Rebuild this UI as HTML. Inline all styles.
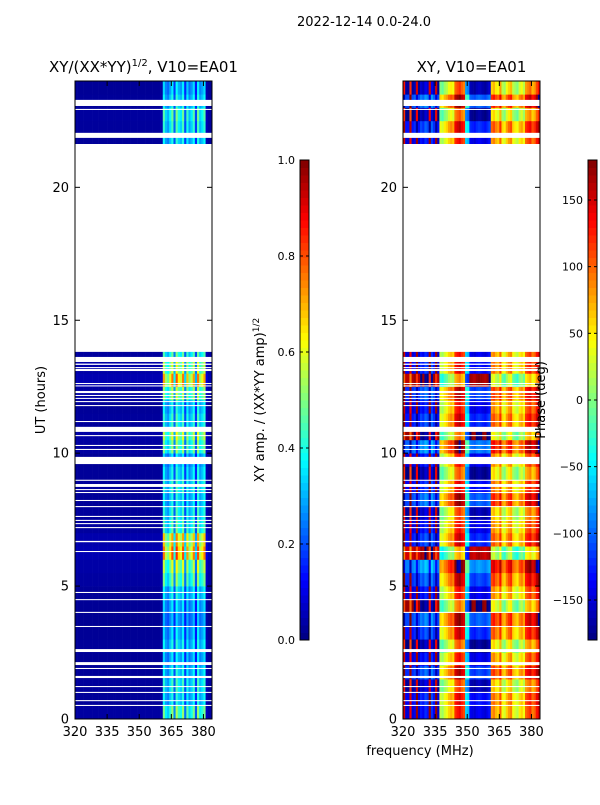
<!DOCTYPE html>
<html><head><meta charset="utf-8">
<style>
body{margin:0;background:#fff;}
svg text{font-family:"DejaVu Sans","Liberation Sans",sans-serif;fill:#000;}
</style></head>
<body>
<svg id="fig" width="600" height="800" viewBox="0 0 600 800" xmlns="http://www.w3.org/2000/svg">
<rect width="600" height="800" fill="#fff"/>
<text x="364" y="26" font-size="13" text-anchor="middle">2022-12-14 0.0-24.0</text>
<g id="left"></g><g id="right"></g><g id="cbars"></g>
</svg>
<script>
// ---- data ----
const chanFreqs = [320,321,322,323,324,325,326,327,328,329,330,331,332,333,334,335,336,337,338,339,340,341,342,343,344,345,346,347,348,349,350,351,352,353,354,355,356,357,358,359,360,361,362,363,364,365,366,367,368,369,370,371,372,373,374,375,376,377,378,379,380,381,382,383];
const chanAmp = [0.025,0.025,0.025,0.025,0.025,0.025,0.025,0.025,0.025,0.025,0.025,0.025,0.025,0.025,0.025,0.025,0.025,0.025,0.025,0.025,0.025,0.025,0.025,0.025,0.025,0.025,0.025,0.025,0.025,0.025,0.025,0.025,0.025,0.025,0.025,0.025,0.025,0.025,0.025,0.025,0.04,0.38,0.28,0.25,0.32,0.40,0.20,0.42,0.33,0.30,0.40,0.18,0.36,0.26,0.30,0.38,0.16,0.40,0.28,0.32,0.38,0.05,0.025,0.025];
const chanPhase = [150,-150,-150,140,-150,-140,170,-150,-130,-140,-120,-130,170,-120,-140,170,-150,20,10,30,40,60,70,60,120,130,140,120,110,-60,-70,-140,-145,-150,-140,-135,-140,-145,-150,-140,-130,80,90,70,60,100,40,30,60,80,90,40,30,20,50,60,40,100,110,120,90,100,130,150];
const binHours = 0.5;
const rowGain = [1.3,1.0,1.1,1.0,0.9,1.0,0.9,0.8,0.9,1.0,1.3,1.5,2.0,1.8,1.2,1.1,1.0,1.1,1.0,0.9,1.3,1.5,1.1,1.0,1.4,1.9,1.5,1.2,1.0,1.0,1.0,1.0,1.0,1.0,1.0,1.0,1.0,1.0,1.0,1.0,1.0,1.0,1.0,1.0,1.1,1.2,1.0,0.9];
const rowPhaseShift = [0,10,-20,30,0,-30,20,40,-40,0,30,60,-60,20,0,-20,40,10,-30,0,50,-40,20,0,30,-50,10,0,0,0,0,0,0,0,0,0,0,0,0,0,0,0,0,0,20,-30,40,-20];
const flagStart = [23.06,22.91,21.86,13.81,13.43,13.32,13.20,13.09,12.60,12.51,12.26,12.15,12.04,11.92,11.77,11.17,10.80,10.64,10.27,10.12,9.59,8.96,8.73,8.61,8.50,8.20,7.97,7.60,7.45,7.33,7.18,6.65,6.28,4.74,4.47,3.99,3.46,2.52,2.03,1.88,1.54,1.20,0.98,0.67,0.49];
const flagEnd   = [23.29,22.95,22.05,21.63,13.62,13.37,13.24,13.17,12.64,12.55,12.34,12.19,12.08,11.96,11.81,11.21,10.99,10.68,10.31,10.16,9.86,9.00,8.84,8.65,8.54,8.24,8.01,7.64,7.49,7.37,7.22,6.70,6.32,4.78,4.51,4.03,3.50,2.63,2.14,1.92,1.62,1.24,1.02,0.71,0.53];
const yTicks = [0,5,10,15,20];
const xTicks = [320,335,350,365,380];
const ampTicks = ["0.0","0.2","0.4","0.6","0.8","1.0"];
const phaseTicks = [-150,-100,-50,0,50,100,150];

// ---- helpers ----
const NS="http://www.w3.org/2000/svg";
const TOP=81, BOT=719, W=137, FMIN=320, FMAX=384, HMAX=24;
function yS(h){return BOT-(h/HMAX)*(BOT-TOP);}
function xS(x0,f){return x0+(f-FMIN)/(FMAX-FMIN)*W;}
function clip(v){return Math.max(0,Math.min(1,v));}
function jet(v){v=clip(v);const r=clip(1.5-Math.abs(4*v-3)),g=clip(1.5-Math.abs(4*v-2)),b=clip(1.5-Math.abs(4*v-1));
 return "rgb("+Math.round(r*255)+","+Math.round(g*255)+","+Math.round(b*255)+")";}
function mk(tag,attrs,parent){const e=document.createElementNS(NS,tag);for(const k in attrs)e.setAttribute(k,attrs[k]);parent.appendChild(e);return e;}
function wrap(p){while(p>180)p-=360;while(p<-180)p+=360;return p;}

function panel(gid,x0,title,valFn){
 const g=document.getElementById(gid);
 for(let r=0;r<rowGain.length;r++){
  for(let c=0;c<chanFreqs.length;c++){
   const x=xS(x0,chanFreqs[c]), x2=xS(x0,chanFreqs[c]+1);
   const y=yS((r+1)*binHours), y2=yS(r*binHours);
   const cell=mk('rect',{x:x,y:y,width:x2-x+0.3,height:y2-y+0.3,fill:jet(valFn(c,r))},g);
   
   
  }
 }
 for(let i=0;i<flagStart.length;i++){
  const fl=mk('rect',{x:x0,y:yS(flagEnd[i]),width:W,height:yS(flagStart[i])-yS(flagEnd[i]),fill:'#fff'},g);
  
  
 }
 const fr=mk('rect',{x:x0,y:TOP,width:W,height:BOT-TOP,fill:'none',stroke:'#000','stroke-width':1},g);
 
 
 yTicks.forEach(t=>{const y=yS(t);
  mk('line',{x1:x0,x2:x0+5,y1:y,y2:y,stroke:'#000'},g);
  mk('line',{x1:x0+W,x2:x0+W-5,y1:y,y2:y,stroke:'#000'},g);
  const tx=mk('text',{x:x0-6,y:y+4.5,'font-size':13,'text-anchor':'end'},g);tx.textContent=t;
  
  
 });
 xTicks.forEach(t=>{const x=xS(x0,t);
  mk('line',{x1:x,x2:x,y1:BOT,y2:BOT-5,stroke:'#000'},g);
  mk('line',{x1:x,x2:x,y1:TOP,y2:TOP+5,stroke:'#000'},g);
  const tx=mk('text',{x:x,y:BOT+17,'font-size':13,'text-anchor':'middle'},g);tx.textContent=t;
  
  
 });
 const tt=mk('text',{x:x0+W/2,y:72,'font-size':15,'text-anchor':'middle'},g);tt.innerHTML=title;
 
 
}
panel('left',75,'XY/(XX*YY)<tspan font-size="10" dy="-6">1/2</tspan><tspan dy="6">, V10=EA01</tspan>',(c,r)=>chanAmp[c]*rowGain[r]);
panel('right',403,'XY, V10=EA01',(c,r)=>(wrap(chanPhase[c]+rowPhaseShift[r])+180)/360);

// axis titles
const svg=document.getElementById('fig');
let t=mk('text',{x:45,y:400,'font-size':13,'text-anchor':'middle',transform:'rotate(-90 45 400)'},svg);t.textContent='UT (hours)';


t=mk('text',{x:420,y:755,'font-size':13,'text-anchor':'middle'},svg);t.textContent='frequency (MHz)';



// colorbars
function cbar(x,labels,vals,vmin,vmax,title,tx,name){
 const g=document.getElementById('cbars');
 const n=64;
 for(let i=0;i<n;i++){const y=640-(i+1)*480/n;
  mk('rect',{x:x,y:y,width:9,height:480/n+0.5,fill:jet((i+0.5)/n)},g);}
 const fr=mk('rect',{x:x,y:160,width:9,height:480,fill:'none',stroke:'#000'},g);
 
 
 labels.forEach((lb,i)=>{const y=640-(vals[i]-vmin)/(vmax-vmin)*480;
  mk('line',{x1:x,x2:x+3,y1:y,y2:y,stroke:'#000'},g);
  mk('line',{x1:x+9,x2:x+6,y1:y,y2:y,stroke:'#000'},g);
  const e=mk('text',{x:x-5,y:y+4,'font-size':11,'text-anchor':'end'},g);e.textContent=lb;
  
  
 });
 const e=mk('text',{x:tx,y:400,'font-size':13,'text-anchor':'middle',transform:'rotate(-90 '+tx+' 400)'},g);e.innerHTML=title;
 
 
}
cbar(300,ampTicks,ampTicks.map(Number),0,1,'XY amp. / (XX*YY amp)<tspan font-size="9" dy="-5">1/2</tspan>',264,'amplitude-colorbar');
cbar(588,phaseTicks.map(v=>v<0?'\u2212'+(-v):''+v),phaseTicks,-180,180,'Phase (deg)',545,'phase-colorbar');
</script>
</body></html>
